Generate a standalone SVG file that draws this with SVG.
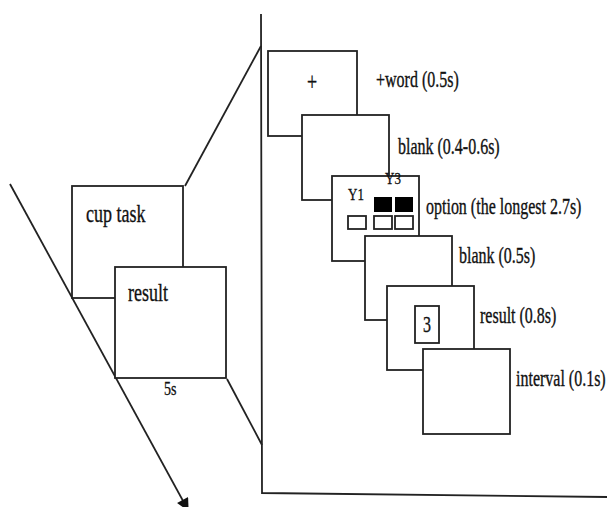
<svg xmlns="http://www.w3.org/2000/svg" width="607" height="507" viewBox="0 0 607 507">
<style>
.fr{fill:#fff;stroke:#222;stroke-width:1.8}
.ln{fill:none;stroke:#222;stroke-width:1.8}
.t{font-family:"Liberation Serif","Times New Roman",serif;fill:#111;stroke:#111;stroke-width:0.25}
</style>
<defs>
<marker id="ah" viewBox="0 0 10 10" refX="9" refY="5" markerWidth="8" markerHeight="7" orient="auto" markerUnits="strokeWidth">
<path d="M0,0 L10,5 L0,10 z" fill="#111"/>
</marker>
</defs>
<rect width="607" height="507" fill="#fff"/>
<g id="connectors">
<line class="ln" x1="10" y1="184" x2="188" y2="510" marker-end="url(#ah)"/>
<line class="ln" x1="185" y1="186" x2="261" y2="46"/>
<line class="ln" x1="227" y1="379" x2="262" y2="445"/>
<polyline class="ln" points="261,14 262,493 607,497"/>
</g>
<g id="cup-task">
<rect class="fr" x="72" y="186" width="111" height="112"/>
<text class="t" font-size="18" transform="translate(86,222) scale(1,1.4)">cup task</text>
</g>
<g id="result">
<rect class="fr" x="115" y="267" width="111" height="111"/>
<text class="t" font-size="18" transform="translate(128,301) scale(1,1.4)">result</text>
<text class="t" font-size="14" transform="translate(164,395) scale(1,1.3)">5s</text>
</g>
<g id="frame-word">
<rect class="fr" x="268" y="51" width="89" height="85"/>
<text class="t" font-size="18" text-anchor="middle" stroke-width="0.6" transform="translate(312,90) scale(1,1.4)">+</text>
<text class="t" font-size="16" transform="translate(376,87) scale(1,1.4)">+word (0.5s)</text>
</g>
<g id="frame-blank1">
<rect class="fr" x="302" y="115" width="87" height="85"/>
<text class="t" font-size="16" transform="translate(398,154) scale(1,1.4)">blank (0.4-0.6s)</text>
</g>
<g id="frame-option">
<rect class="fr" x="332" y="176" width="87" height="85"/>
<text class="t" font-size="13" transform="translate(348,200) scale(1,1.3)">Y1</text>
<text class="t" font-size="13" transform="translate(385,184) scale(1,1.3)">Y3</text>
<rect x="374" y="197" width="18" height="15" fill="#000"/>
<rect x="395" y="197" width="18" height="15" fill="#000"/>
<rect class="fr" x="348" y="216" width="18" height="13"/>
<rect class="fr" x="374" y="216" width="18" height="13"/>
<rect class="fr" x="395" y="216" width="18" height="13"/>
<text class="t" font-size="16" transform="translate(426,214) scale(1,1.4)">option (the longest 2.7s)</text>
</g>
<g id="frame-blank2">
<rect class="fr" x="365" y="236" width="87" height="84"/>
<text class="t" font-size="16" transform="translate(459,263) scale(1,1.4)">blank (0.5s)</text>
</g>
<g id="frame-result">
<rect class="fr" x="387" y="286" width="87" height="84"/>
<rect class="fr" x="415" y="306" width="24" height="37"/>
<text class="t" font-size="16" text-anchor="middle" transform="translate(427,332) scale(1,1.4)">3</text>
<text class="t" font-size="16" transform="translate(480,323) scale(1,1.4)">result (0.8s)</text>
</g>
<g id="frame-interval">
<rect class="fr" x="423" y="349" width="87" height="85"/>
<text class="t" font-size="16" transform="translate(516,386) scale(1,1.4)">interval (0.1s)</text>
</g>
</svg>
